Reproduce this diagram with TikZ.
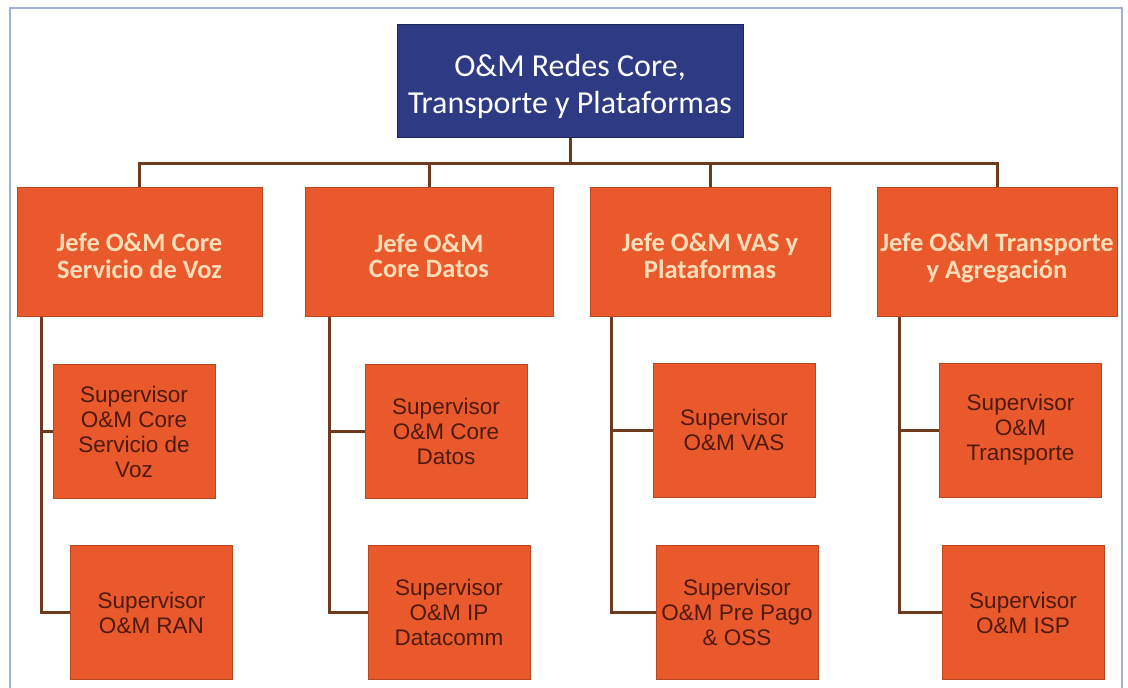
\documentclass[tikz,border=0pt]{standalone}
\usepackage{fontspec}
\setmainfont{Liberation Sans}
\newfontfamily\calib{Carlito}
\usetikzlibrary{calc}
\definecolor{navy}{HTML}{2F3A85}
\definecolor{navyedge}{HTML}{1E2560}
\definecolor{orng}{HTML}{E9592B}
\definecolor{orngedge}{HTML}{B8461F}
\definecolor{peach}{HTML}{FCDDB8}
\definecolor{darktxt}{HTML}{4E1A10}
\definecolor{wire}{HTML}{6E3A1E}
\definecolor{frame}{HTML}{9EB2D8}
\newcommand{\lowr}[2]{\raisebox{-#1}[\height][\depth]{#2}}
\tikzset{
  topbox/.style={draw=navyedge, line width=1pt, fill=navy, text=white,
    minimum width=346pt, minimum height=113pt, align=center,
    font=\calib\fontsize{32}{37}\selectfont},
  jefebox/.style={draw=orngedge, line width=1pt, fill=orng, text=peach,
    minimum height=129pt, align=center, inner sep=0pt,
    font=\calib\bfseries\fontsize{26.5}{25}\selectfont},
  supbox/.style={draw=orngedge, line width=1pt, fill=orng, text=darktxt,
    minimum width=162pt, minimum height=134pt, align=center, inner sep=0pt,
    font=\fontsize{22.5}{25}\selectfont},
  wireline/.style={draw=wire, line width=3pt},
}
\begin{document}
\begin{tikzpicture}[x=1pt,y=-1pt]
\useasboundingbox (0,0) rectangle (1128,688);
\fill[white] (0,0) rectangle (1128,688);
\draw[frame, line width=2pt] (10,690) -- (10,8) -- (1122,8) -- (1122,690);

\node[topbox] (top) at (570,80.5) {\lowr{6pt}{\shortstack{O\&M Redes Core,\\[7pt]Transporte y Plataformas}}};

\node[jefebox, minimum width=245pt] (j1) at (139.5,251.5) {\lowr{8pt}{\begin{tabular}{@{}c@{}}Jefe O\&M Core\\Servicio de Voz\end{tabular}}};
\node[jefebox, minimum width=248pt] (j2) at (429,251.5) {\lowr{8pt}{\begin{tabular}{@{}c@{}}Jefe O\&M\\Core Datos\end{tabular}}};
\node[jefebox, minimum width=240pt] (j3) at (710,251.5) {\lowr{8pt}{\begin{tabular}{@{}c@{}}Jefe O\&M VAS y\\Plataformas\end{tabular}}};
\node[jefebox, minimum width=240pt] (j4) at (997,251.5) {\lowr{8pt}{\begin{tabular}{@{}c@{}}Jefe O\&M Transporte\\y Agregación\end{tabular}}};

\node[supbox] (s11) at (134,431.5) {Supervisor\\O\&M Core\\Servicio de\\Voz};
\node[supbox] (s12) at (151.5,612.5) {Supervisor\\O\&M RAN};
\node[supbox] (s21) at (446,431.5) {Supervisor\\O\&M Core\\Datos};
\node[supbox] (s22) at (449,612.5) {Supervisor\\O\&M IP\\Datacomm};
\node[supbox] (s31) at (734,430) {Supervisor\\O\&M VAS};
\node[supbox] (s32) at (737,612.5) {Supervisor\\O\&M Pre Pago\\\& OSS};
\node[supbox] (s41) at (1020.5,430) {Supervisor\\O\&M\\Transporte};
\node[supbox] (s42) at (1023,612.5) {Supervisor\\O\&M ISP};

% top level connectors
\coordinate (bus) at (570,163);
\draw[wireline] (top.south) -- (bus);
\draw[wireline] (j1.north) |- (bus) -| (j4.north);
\draw[wireline] (j2.north) -- (j2.north |- bus);
\draw[wireline] (j3.north) -- (j3.north |- bus);

% second level connectors
\coordinate (c1) at ($(j1.south west)+(25,0)$);
\coordinate (c2) at ($(j2.south west)+(25,0)$);
\coordinate (c3) at ($(j3.south west)+(22,0)$);
\coordinate (c4) at ($(j4.south west)+(23,0)$);
\draw[wireline] (c1) |- (s12.west);
\draw[wireline] (s11.west) -- (s11.west -| c1);
\draw[wireline] (c2) |- (s22.west);
\draw[wireline] (s21.west) -- (s21.west -| c2);
\draw[wireline] (c3) |- (s32.west);
\draw[wireline] (s31.west) -- (s31.west -| c3);
\draw[wireline] (c4) |- (s42.west);
\draw[wireline] (s41.west) -- (s41.west -| c4);
\end{tikzpicture}
\end{document}
